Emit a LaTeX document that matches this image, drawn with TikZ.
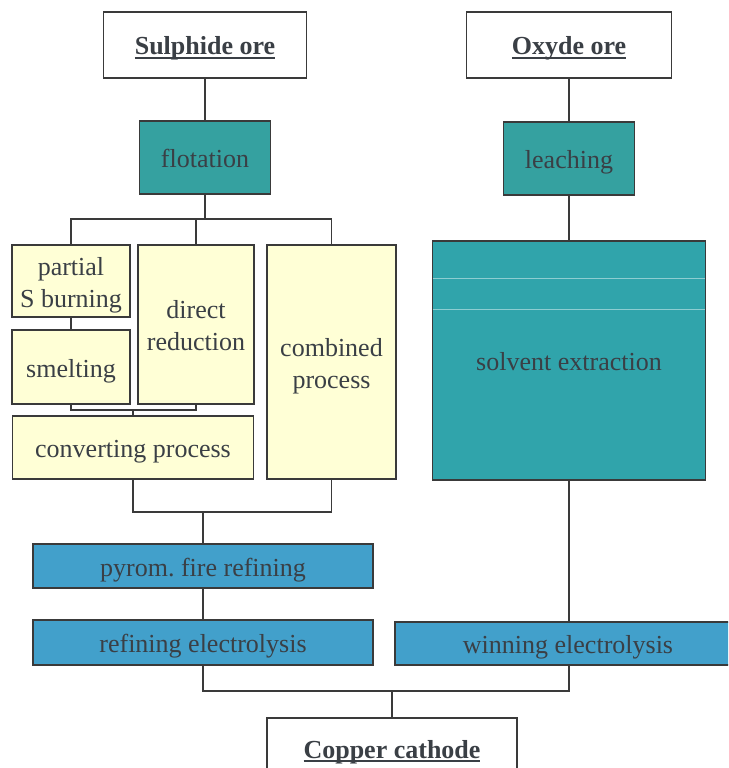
\documentclass[tikz,border=0pt]{standalone}
\usepackage{fontspec}
\setmainfont{Liberation Serif}
\definecolor{txt}{HTML}{3A3F45}
\definecolor{tealA}{HTML}{35A1A0}
\definecolor{tealB}{HTML}{30A4AB}
\definecolor{blueA}{HTML}{42A0CB}
\definecolor{cream}{HTML}{FFFFD6}
\definecolor{edge}{HTML}{3A3A3A}
\newsavebox{\ulsave}
\newcommand{\thickul}[1]{\sbox{\ulsave}{#1}\rlap{\rule[-4pt]{\wd\ulsave}{1.6pt}}\usebox{\ulsave}}
\newcommand{\oneline}[1]{\smash{#1}\rule[-1pt]{0pt}{22pt}}
\newcommand{\twolines}[2]{\smash{\begin{tabular}[t]{@{}c@{}}#1\\#2\end{tabular}}\rule[-13pt]{0pt}{14pt}}
\newcommand{\headtxt}[1]{\oneline{\textbf{\thickul{#1}}}}
\begin{document}
\begin{tikzpicture}[x=1pt,y=-1pt,
  box/.style={draw=edge,line width=1.7pt,rectangle,inner sep=0pt,text=txt,
              font=\fontsize{26}{32}\selectfont},
  wh/.style 2 args={minimum width=#1pt,minimum height=#2pt},
  whitebox/.style={box,fill=white},
  tealbox/.style={box,fill=tealA},
  solbox/.style={box,fill=tealB},
  bluebox/.style={box,fill=blueA},
  creambox/.style={box,fill=cream},
  conn/.style={draw=edge,line width=1.8pt},
  scanline/.style={draw=tealB!55!white,line width=0.8pt}]
\clip (0,0) rectangle (728,768);
\fill[white] (0,0) rectangle (728,768);

% nodes
\node[whitebox,wh={203}{66}] (sul) at (205,45) {\headtxt{Sulphide ore}};
\node[whitebox,wh={205}{66}] (oxy) at (569,45) {\headtxt{Oxyde ore}};
\node[tealbox,wh={131}{73}] (flo) at (205,157.5) {\oneline{flotation}};
\node[tealbox,wh={131}{73}] (lea) at (569,158.5) {\oneline{leaching}};
\node[creambox,wh={118}{72}] (par) at (71,281) {\twolines{partial}{S burning}};
\node[creambox,wh={118}{74}] (sme) at (71,367) {\oneline{smelting}};
\node[creambox,wh={116}{159}] (dir) at (196,324.5) {\twolines{direct}{reduction}};
\node[creambox,wh={129}{234}] (com) at (331.5,362) {\twolines{combined}{process}};
\node[creambox,wh={241}{63}] (con) at (133,447.5) {\oneline{converting process}};
\node[solbox,wh={273}{239}] (sol) at (569,360.5) {\oneline{solvent extraction}};
\node[bluebox,wh={340}{44}] (pyr) at (203,566) {\oneline{pyrom.\ fire refining}};
\node[bluebox,wh={340}{45}] (ref) at (203,642.5) {\oneline{refining electrolysis}};
\node[bluebox,wh={346}{43}] (win) at (568,643.5) {\oneline{winning electrolysis}};
\node[whitebox,wh={250}{60}] (cop) at (392,748) {\headtxt{Copper cathode}};

% faint scan lines in the solvent extraction box
\draw[scanline] ([xshift=1pt]sol.north west |- 0,278) -- ([xshift=-1pt]sol.north east |- 0,278);
\draw[scanline] ([xshift=1pt]sol.north west |- 0,309) -- ([xshift=-1pt]sol.north east |- 0,309);

% bus points
\coordinate (b1) at (205,219);
\coordinate (b2) at (133,410);
\coordinate (b3) at (203,512);
\coordinate (b4) at (392,691);

% connectors
\draw[conn] (sul) -- (flo);
\draw[conn] (oxy) -- (lea);
\draw[conn] (flo) -- (b1);
\draw[conn] (par.north) |- (b1) -| (com.north);
\draw[conn] (dir.north) -- (dir.north |- b1);
\draw[conn] (par) -- (sme);
\draw[conn] (sme.south) |- (b2) -| (dir.south);
\draw[conn] (b2) -- (con.north);
\draw[conn] (con.south) |- (b3) -| (com.south);
\draw[conn] (b3) -- (pyr.north);
\draw[conn] (pyr) -- (ref);
\draw[conn] (lea) -- (sol);
\draw[conn] (sol.south) -- (sol.south |- win.north);
\draw[conn] (ref.south) |- (b4) -| (win.south -| sol.south);
\draw[conn] (b4) -- (cop.north);
\end{tikzpicture}
\end{document}
